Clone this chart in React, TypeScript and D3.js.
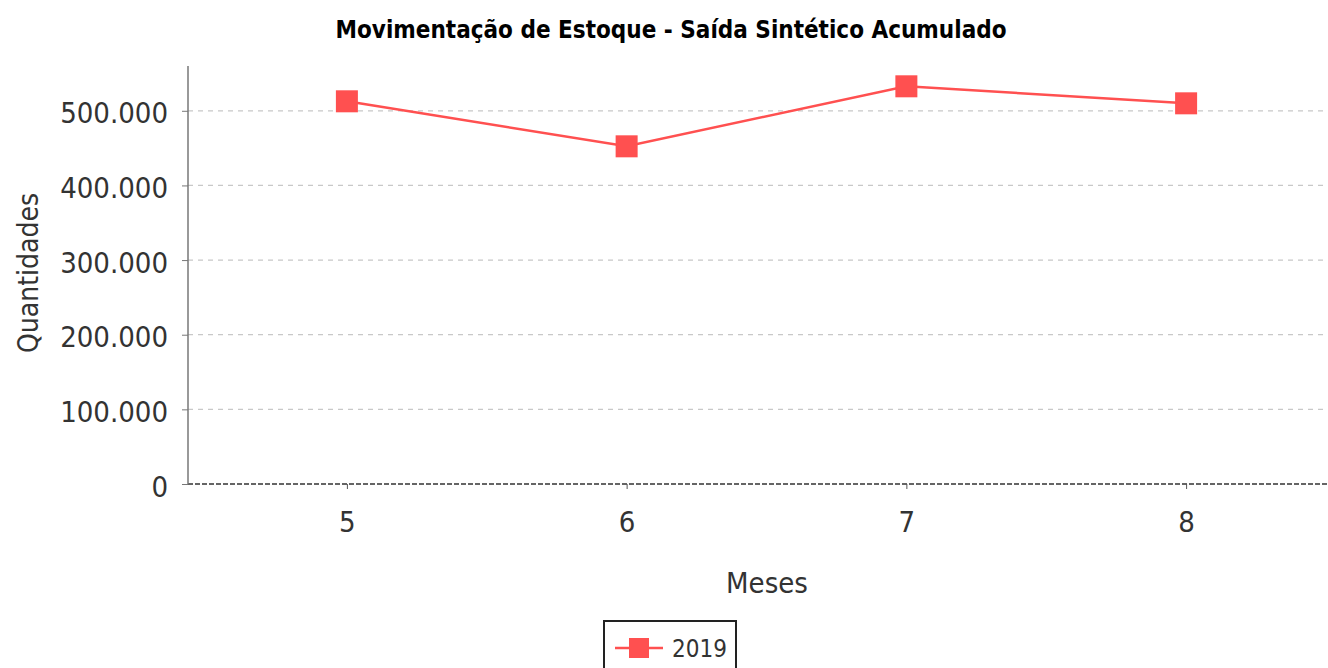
import React, { useEffect, useRef } from "react";
import * as d3 from "d3";

const meses = ["5", "6", "7", "8"];
const serie2019 = [512700, 452400, 532800, 510000];
const yTicks = [0, 100000, 200000, 300000, 400000, 500000];
const serieNome = "2019";

const FONT = "'DejaVu Sans Condensed', 'DejaVu Sans', sans-serif";
const RED = "#ff5050";

export default function App() {
  const ref = useRef<SVGSVGElement>(null);

  useEffect(() => {
    const width = 1328;
    const height = 668;
    const margin = { top: 66, left: 188, bottom: 184 };

    const svg = d3.select(ref.current);
    svg.selectAll("*").remove();

    const x = d3.scalePoint<string>()
      .domain(meses)
      .range([margin.left, 1345])
      .padding(0.568);

    const y = d3.scaleLinear()
      .domain([0, 560000])
      .range([height - margin.bottom, margin.top]);

    const fmt = (v: number) => d3.format(",")(v).replace(/,/g, ".");

    // title
    svg.append("text")
      .attr("x", 671)
      .attr("y", 38)
      .attr("text-anchor", "middle")
      .style("font-family", FONT)
      .style("font-stretch", "condensed")
      .style("font-weight", "bold")
      .style("font-size", "24px")
      .text("Movimentação de Estoque - Saída Sintético Acumulado");

    // grid
    svg.append("g")
      .selectAll("line")
      .data(yTicks.filter(d => d > 0))
      .join("line")
      .attr("x1", margin.left)
      .attr("x2", width)
      .attr("y1", d => y(d))
      .attr("y2", d => y(d))
      .attr("stroke", "#c8c8c8")
      .attr("stroke-width", 1.2)
      .attr("stroke-dasharray", "5,5");

    // zero line (dashed, dark)
    svg.append("line")
      .attr("x1", margin.left)
      .attr("x2", width)
      .attr("y1", y(0))
      .attr("y2", y(0))
      .attr("stroke", "#333")
      .attr("stroke-width", 1.3)
      .attr("stroke-dasharray", "5,2");

    // y axis
    const yAxis = svg.append("g")
      .attr("transform", `translate(${margin.left},0)`)
      .call(d3.axisLeft(y).tickValues(yTicks).tickFormat(d => fmt(+d)).tickSize(6).tickPadding(14));
    yAxis.select(".domain").attr("stroke", "#777").attr("stroke-width", 1.5).attr("d", `M0,${margin.top}V${y(0)}`);
    yAxis.selectAll(".tick line").attr("stroke", "#777");
    yAxis.selectAll("text")
      .style("font-family", FONT)
      .style("font-stretch", "condensed")
      .style("font-size", "29px")
      .attr("fill", "#333")
      .attr("dy", "0.42em");

    // x axis
    const xAxis = svg.append("g")
      .attr("transform", `translate(0,${y(0)})`)
      .call(d3.axisBottom(x).tickSize(5).tickPadding(22));
    xAxis.select(".domain").remove();
    xAxis.selectAll(".tick line").attr("stroke", "#555");
    xAxis.selectAll("text")
      .style("font-family", FONT)
      .style("font-stretch", "condensed")
      .style("font-size", "29px")
      .attr("fill", "#333");

    // axis labels
    svg.append("text")
      .attr("x", 767)
      .attr("y", 593)
      .attr("text-anchor", "middle")
      .style("font-family", FONT)
      .style("font-stretch", "condensed")
      .style("font-size", "29px")
      .attr("fill", "#333")
      .text("Meses");

    svg.append("text")
      .attr("transform", `translate(38,273) rotate(-90)`)
      .attr("text-anchor", "middle")
      .style("font-family", FONT)
      .style("font-stretch", "condensed")
      .style("font-size", "28px")
      .attr("fill", "#333")
      .text("Quantidades");

    // series line
    const line = d3.line<number>()
      .x((_, i) => x(meses[i])!)
      .y(d => y(d));

    svg.append("path")
      .datum(serie2019)
      .attr("d", line)
      .attr("fill", "none")
      .attr("stroke", RED)
      .attr("stroke-width", 2.5);

    const sz = 22;
    svg.append("g")
      .selectAll("rect")
      .data(serie2019)
      .join("rect")
      .attr("x", (_, i) => x(meses[i])! - sz / 2)
      .attr("y", d => y(d) - sz / 2)
      .attr("width", sz)
      .attr("height", sz)
      .attr("fill", RED);

    // legend
    const lg = svg.append("g").attr("transform", "translate(604,621)");
    lg.append("rect")
      .attr("width", 132)
      .attr("height", 60)
      .attr("fill", "white")
      .attr("stroke", "#222")
      .attr("stroke-width", 2);
    lg.append("line")
      .attr("x1", 11).attr("x2", 59)
      .attr("y1", 27).attr("y2", 27)
      .attr("stroke", RED).attr("stroke-width", 2.5);
    lg.append("rect")
      .attr("x", 25).attr("y", 17)
      .attr("width", 20).attr("height", 20)
      .attr("fill", RED);
    lg.append("text")
      .attr("x", 68)
      .attr("y", 36)
      .style("font-family", FONT)
      .style("font-stretch", "condensed")
      .style("font-size", "24px")
      .attr("fill", "#333")
      .text(serieNome);
  }, []);

  return (
    <svg
      ref={ref}
      width={1328}
      height={668}
      style={{ position: "absolute", left: 0, top: 0, background: "white" }}
    />
  );
}
